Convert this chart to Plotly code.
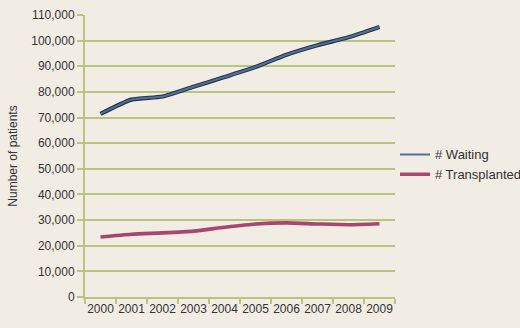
import plotly.graph_objects as go

years = ["2000", "2001", "2002", "2003", "2004", "2005", "2006", "2007", "2008", "2009"]
waiting = [71400, 77000, 78200, 82000, 85800, 89700, 94500, 98200, 101300, 105300]
transplanted = [23400, 24500, 25000, 25700, 27200, 28500, 28900, 28500, 28200, 28600]
y_ticks = list(range(0, 110001, 10000))

bg = "#f1ede4"
grid = "#b9c57f"
fig = go.Figure()
# outline for waiting line
fig.add_trace(go.Scatter(x=years, y=waiting, mode="lines", line=dict(color="#263248", width=4.2, shape="spline", smoothing=0.6),
                         showlegend=False, hoverinfo="skip"))
fig.add_trace(go.Scatter(x=years, y=waiting, mode="lines", name="# Waiting",
                         line=dict(color="#52709a", width=2, shape="spline", smoothing=0.6)))
fig.add_trace(go.Scatter(x=years, y=transplanted, mode="lines", name="# Transplanted",
                         line=dict(color="#a8466e", width=3.6, shape="spline", smoothing=0.6)))

fig.update_layout(
    width=520, height=328,
    margin=dict(l=85, r=125, t=15, b=31, autoexpand=False),
    paper_bgcolor=bg, plot_bgcolor=bg,
    font=dict(family="Liberation Sans, Arial", size=12, color="#333333"),
    legend=dict(x=1.0, y=0.47, xanchor="left", yanchor="middle", bgcolor="rgba(0,0,0,0)",
                font=dict(size=13, color="#333333"), itemwidth=30),
    showlegend=True,
)
fig.update_xaxes(type="category", range=[-0.5, 9.5], showgrid=False, showline=True, linecolor=grid, linewidth=2,
                 ticks="outside", tickson="boundaries", tickcolor=grid, ticklen=5, tickwidth=1.5, tickangle=0,
                 automargin=False, tickfont=dict(size=12, color="#333333"))
fig.update_yaxes(range=[0, 110000], tickvals=y_ticks, tickformat=",", showgrid=True, gridcolor=grid, gridwidth=2,
                 showline=True, linecolor=grid, linewidth=2, ticks="outside", tickcolor=grid, ticklen=6, tickwidth=1.5,
                 zeroline=False, automargin=False,
                 title=dict(text="Number of patients", font=dict(size=12, color="#333333"), standoff=11),
                 tickfont=dict(size=12, color="#333333"))
fig.write_html("out.html")
